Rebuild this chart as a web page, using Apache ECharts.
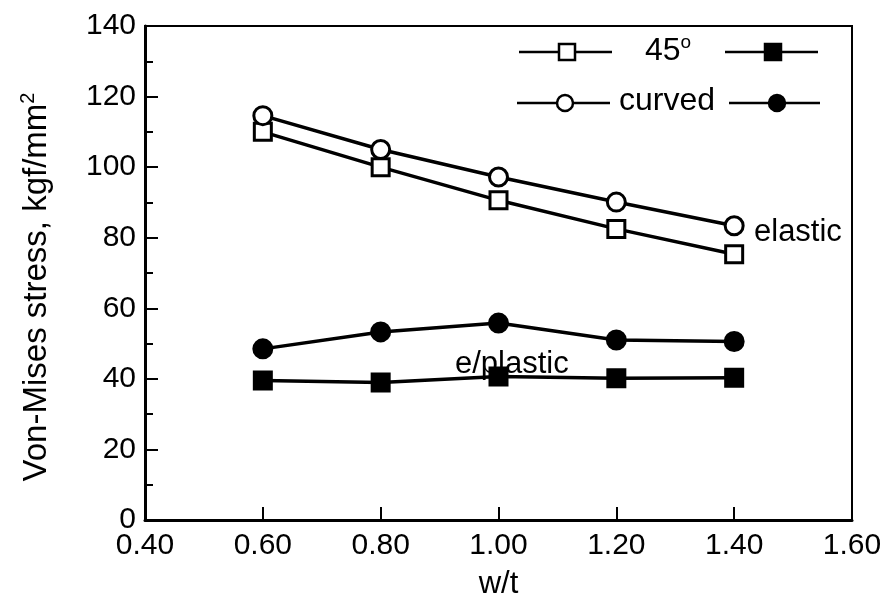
<!DOCTYPE html>
<html>
<head>
<meta charset="utf-8">
<script src="https://cdn.jsdelivr.net/npm/echarts@6/dist/echarts.min.js"></script>
<style>
  html, body { margin: 0; padding: 0; background: #fff; }
  #main { width: 896px; height: 605px; }
</style>
</head>
<body>
<div id="main"></div>
<script>
// w/t values
var wt = [0.6, 0.8, 1.0, 1.2, 1.4];
// elastic results
var deg45Elastic = [110, 100, 90.6, 82.5, 75.3];
var curvedElastic = [114.6, 105, 97.2, 90.1, 83.4];
// elastic-plastic results
var deg45Plastic = [39.5, 39, 40.7, 40.2, 40.3];
var curvedPlastic = [48.5, 53.3, 55.8, 51, 50.6];

var xTicks = ['0.40', '0.60', '0.80', '1.00', '1.20', '1.40', '1.60'];

var font = 'Liberation Sans, Arial, Helvetica, sans-serif';

function pairs(ys) {
  return wt.map(function (x, i) { return [x, ys[i]]; });
}

function makeSeries(name, ys, symbol, filled) {
  return {
    name: name,
    type: 'line',
    data: pairs(ys),
    symbol: symbol,
    symbolSize: symbol === 'rect' ? 17 : 18,
    showAllSymbol: true,
    lineStyle: { color: '#000', width: 3.5 },
    itemStyle: {
      color: filled ? '#000' : '#fff',
      borderColor: '#000',
      borderWidth: 3
    },
    emphasis: { disabled: true },
    animation: false,
    z: 3
  };
}

var chart = echarts.init(document.getElementById('main'), null, { renderer: 'canvas' });

var options = {
  backgroundColor: '#fff',
  animation: false,
  grid: {
    left: 145, right: 44, top: 26, bottom: 83,
    show: true, borderColor: '#000', borderWidth: 2, backgroundColor: 'transparent'
  },
  xAxis: {
    type: 'value',
    min: 0.4, max: 1.6, interval: 0.2,
    name: 'w/t',
    nameLocation: 'middle',
    nameGap: 49,
    nameTextStyle: { fontSize: 31, color: '#000', fontFamily: font },
    axisLine: { show: true, lineStyle: { color: '#000', width: 3 } },
    axisTick: { show: true, inside: true, length: 13, lineStyle: { color: '#000', width: 2 } },
    axisLabel: {
      fontSize: 30, color: '#000', fontFamily: font, margin: 11,
      formatter: function (v) {
        var i = Math.round((v - 0.4) / 0.2);
        return xTicks[i];
      }
    },
    splitLine: { show: false }
  },
  yAxis: {
    type: 'value',
    min: 0, max: 140, interval: 20,
    name: '{t|Von-Mises stress, kgf/mm}{s|2}',
    nameLocation: 'middle',
    nameGap: 89,
    nameRotate: 90,
    nameTextStyle: {
      color: '#000', fontFamily: font, padding: [0, 28, 0, 0],
      rich: {
        t: { fontSize: 33, color: '#000', fontFamily: font, lineHeight: 38 },
        s: { fontSize: 20, color: '#000', fontFamily: font, verticalAlign: 'top', lineHeight: 38 }
      }
    },
    axisLine: { show: true, lineStyle: { color: '#000', width: 3 } },
    axisTick: { show: true, inside: true, length: 13, lineStyle: { color: '#000', width: 2 } },
    minorTick: { show: true, splitNumber: 2, length: 8, lineStyle: { color: '#000', width: 2 } },
    axisLabel: { fontSize: 30, color: '#000', fontFamily: font, margin: 9 },
    splitLine: { show: false }
  },
  series: [
    makeSeries('45 elastic', deg45Elastic, 'rect', false),
    makeSeries('curved elastic', curvedElastic, 'circle', false),
    makeSeries('45 e/plastic', deg45Plastic, 'rect', true),
    makeSeries('curved e/plastic', curvedPlastic, 'circle', true)
  ],
  graphic: [
    // legend row 1: 45°
    { type: 'line', shape: { x1: 519, y1: 52, x2: 612, y2: 52 }, style: { stroke: '#000', lineWidth: 2.5 } },
    { type: 'rect', shape: { x: 559, y: 44, width: 16, height: 16 }, style: { fill: '#fff', stroke: '#000', lineWidth: 2.5 } },
    {
      type: 'text', left: 645, top: 33,
      style: {
        text: '{t|45}{s|o}', fill: '#000',
        rich: {
          t: { fontSize: 32, fontFamily: font, fill: '#000', lineHeight: 36 },
          s: { fontSize: 19, fontFamily: font, fill: '#000', verticalAlign: 'top', lineHeight: 36 }
        }
      }
    },
    { type: 'line', shape: { x1: 725, y1: 52, x2: 818, y2: 52 }, style: { stroke: '#000', lineWidth: 2.5 } },
    { type: 'rect', shape: { x: 765, y: 44, width: 16, height: 16 }, style: { fill: '#000', stroke: '#000', lineWidth: 2.5 } },
    // legend row 2: curved
    { type: 'line', shape: { x1: 517, y1: 103, x2: 610, y2: 103 }, style: { stroke: '#000', lineWidth: 2.5 } },
    { type: 'circle', shape: { cx: 565, cy: 103, r: 8 }, style: { fill: '#fff', stroke: '#000', lineWidth: 2.5 } },
    { type: 'text', left: 619, top: 85, style: { text: 'curved', fontSize: 32, fontFamily: font, fill: '#000' } },
    { type: 'line', shape: { x1: 729, y1: 103, x2: 820, y2: 103 }, style: { stroke: '#000', lineWidth: 2.5 } },
    { type: 'circle', shape: { cx: 777, cy: 103, r: 8 }, style: { fill: '#000', stroke: '#000', lineWidth: 2.5 } },
    // annotations
    { type: 'text', left: 754, top: 217, style: { text: 'elastic', fontSize: 31, fontFamily: font, fill: '#000' } },
    { type: 'text', left: 455, top: 349, style: { text: 'e/plastic', fontSize: 31, fontFamily: font, fill: '#000' } }
  ]
};

chart.setOption(options);
</script>
</body>
</html>
